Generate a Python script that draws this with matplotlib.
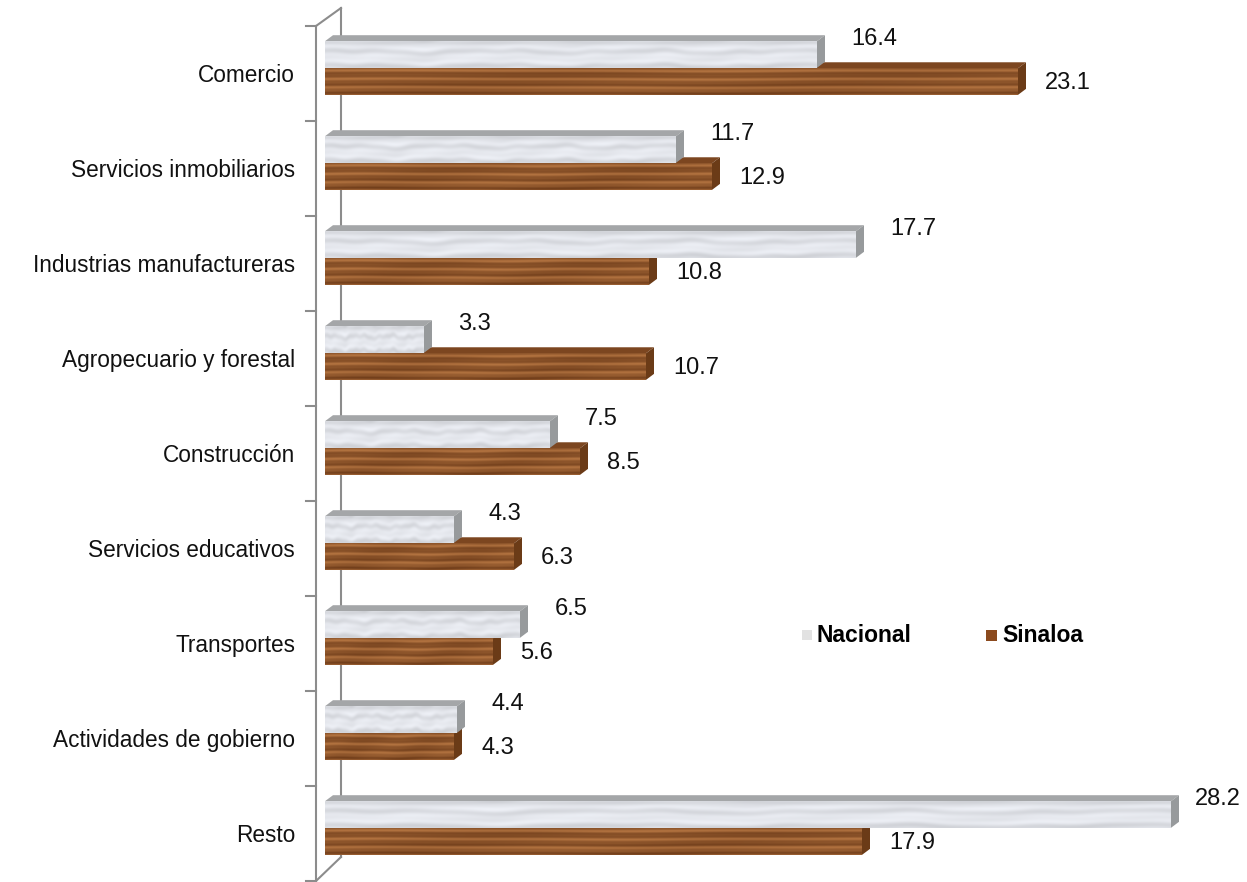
import numpy as np
import matplotlib
matplotlib.use("Agg")
import matplotlib.pyplot as plt
from matplotlib.patches import Polygon, Rectangle

plt.rcParams['font.family'] = ['Liberation Sans', 'DejaVu Sans']

categories = ["Comercio", "Servicios inmobiliarios", "Industrias manufactureras",
              "Agropecuario y forestal", "Construcción", "Servicios educativos",
              "Transportes", "Actividades de gobierno", "Resto"]
nacional = [16.4, 11.7, 17.7, 3.3, 7.5, 4.3, 6.5, 4.4, 28.2]
sinaloa = [23.1, 12.9, 10.8, 10.7, 8.5, 6.3, 5.6, 4.3, 17.9]
series_names = ["Nacional", "Sinaloa"]

W, H = 1247, 882
fig = plt.figure(figsize=(W / 100, H / 100), dpi=100)
x0px = 325
ax = fig.add_axes([x0px / W, 0, (W - x0px) / W, 1])
ppu = 30.0   # pixels per x unit
ppc = 95.0   # pixels per category
xlim = (0, (W - x0px) / ppu)
ylim = ((H - 73.5) / ppc, -73.5 / ppc)
ax.set_axis_off()

# 3-D offsets (style)
DX = 8 / ppu
DY = 6 / ppc
BH = 0.28
off_n = -0.20
off_s = 0.085

# textures (deterministic)
ny, nx = 60, 900
yy, xx = np.mgrid[0:ny, 0:nx]
yf = yy / (ny - 1)
xf = xx / (nx - 1)
# marble for Nacional
warp = (0.10 * np.sin(2 * np.pi * xf * 3.3 + 0.7) + 0.06 * np.sin(2 * np.pi * xf * 7.1 + 2.1)
        + 0.03 * np.sin(2 * np.pi * xf * 13.3))
m = (0.5 * np.sin(2 * np.pi * (yf * 1.8 + warp))
     + 0.3 * np.sin(2 * np.pi * (yf * 3.7 + 1.5 * warp + 0.3))
     + 0.2 * np.sin(2 * np.pi * (xf * 5.0 + yf * 1.3 + 0.5 * warp)))
g = 0.885 + 0.06 * m + 0.03 * np.sin(np.pi * yf) - 0.05 * np.exp(-((yf - 0.05) / 0.08) ** 2)
g = np.clip(g, 0.74, 1.0)
marble = np.dstack([g * 0.975, g * 0.985, np.minimum(g * 1.01, 1.0)])
# wood for Sinaloa
wwarp = 0.04 * np.sin(2 * np.pi * xf * 1.3 + 0.4) + 0.02 * np.sin(2 * np.pi * xf * 3.1)
w = (0.5 + 0.28 * np.sin(2 * np.pi * (yf * 3.0 + wwarp))
     + 0.14 * np.sin(2 * np.pi * (yf * 6.5 + 2 * wwarp + 0.6))
     + 0.06 * np.sin(2 * np.pi * (xf * 2.0 + yf * 0.5)))
w = np.clip(w, 0, 1)
dark = np.array([108, 58, 24]) / 255
light = np.array([182, 118, 66]) / 255
wood = dark[None, None, :] * (1 - w[..., None]) + light[None, None, :] * w[..., None]

y = np.arange(len(categories))


def draw_series(vals, off, tex, top_col, side_col, z):
    centers = y + off
    bars = ax.barh(centers, vals, height=BH, color='none', edgecolor='none', zorder=z + 1)
    for b, v, c in zip(bars, vals, centers):
        top = c - BH / 2
        bot = c + BH / 2
        ax.add_patch(Polygon([(0, top), (v, top), (v + DX, top - DY), (DX, top - DY)],
                             closed=True, facecolor=top_col, edgecolor='none', zorder=z))
        ax.add_patch(Polygon([(v, top), (v + DX, top - DY), (v + DX, bot - DY), (v, bot)],
                             closed=True, facecolor=side_col, edgecolor='none', zorder=z))
        im = ax.imshow(tex, extent=(0, v, bot, top), aspect='auto', zorder=z + 0.5,
                       interpolation='bilinear')
        im.set_clip_path(b)
    return bars


draw_series(sinaloa, off_s, wood, '#7c4620', '#6b3b17', 3)
draw_series(nacional, off_n, marble, '#a4a6a8', '#979a9c', 6)

# value labels
x_right = (1241 - x0px) / ppu
for i, (n, s) in enumerate(zip(nacional, sinaloa)):
    xn = n + 1.15
    if (xn * ppu + x0px) + 50 > 1241:
        ax.text(x_right, i - 0.36, f"{n}", ha='right', va='center', fontsize=17,
                color='#111111', zorder=10)
    else:
        ax.text(xn, i - 0.36, f"{n}", ha='left', va='center', fontsize=17,
                color='#111111', zorder=10)
    ax.text(s + 0.9, i + 0.10, f"{s}", ha='left', va='center', fontsize=17,
            color='#111111', zorder=10)

# category labels
for i, c in enumerate(categories):
    ax.text((295 - x0px) / ppu, i + 0.02, c, ha='right', va='center', fontsize=16.3,
            color='#111111', clip_on=False)

# axis wall
wall = '#8c8c8c'
xf_ = (316 - x0px) / ppu
xb_ = (341 - x0px) / ppu
ytop_f = -0.5
ytop_b = (8 - 73.5) / ppc
ybot_b = (857 - 73.5) / ppc
ybot_f = 8.5
ax.plot([xf_, xf_], [ytop_f, ybot_f], color=wall, lw=1.5, clip_on=False, zorder=1)
ax.plot([xf_, xb_], [ytop_f, ytop_b], color=wall, lw=1.5, clip_on=False, zorder=1)
ax.plot([xb_, xb_], [ytop_b, ybot_b], color=wall, lw=1.5, clip_on=False, zorder=1)
ax.plot([xb_, xf_], [ybot_b, ybot_f], color=wall, lw=1.5, clip_on=False, zorder=1)
for k in range(len(categories) + 1):
    ax.plot([(306 - x0px) / ppu, xf_], [k - 0.5, k - 0.5], color=wall, lw=1.5,
            clip_on=False, zorder=1)

ax.set_xlim(*xlim)
ax.set_ylim(*ylim)

# legend
ly = 1 - 635 / H
fig.patches.append(Rectangle((802 / W, ly - 5 / H), 10 / W, 10 / H, transform=fig.transFigure,
                             facecolor='#e2e2e2', edgecolor='none'))
fig.text(817 / W, ly, series_names[0], ha='left', va='center', fontsize=16.5, fontweight='bold')
fig.patches.append(Rectangle((986 / W, ly - 6 / H), 11 / W, 11 / H, transform=fig.transFigure,
                             facecolor='#8b4a1e', edgecolor='none'))
fig.text(1002 / W, ly, series_names[1], ha='left', va='center', fontsize=16.5, fontweight='bold')

fig.savefig("out.png", dpi=100)
